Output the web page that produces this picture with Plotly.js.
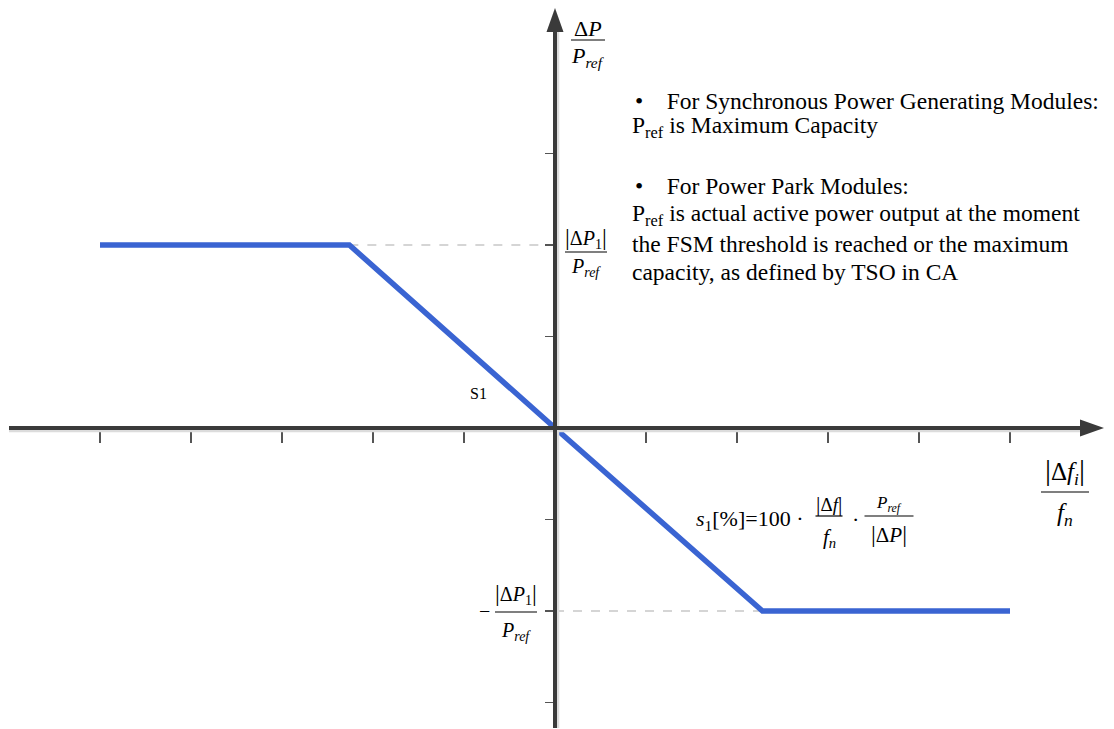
<!DOCTYPE html>
<html>
<head>
<meta charset="utf-8">
<script src="https://cdn.plot.ly/plotly-3.0.1.min.js"></script>
<style>
  html, body { margin: 0; padding: 0; background: #fff; }
  #graph { width: 1114px; height: 729px; }
</style>
</head>
<body>
<div id="graph"></div>
<script>
// 特性曲線の折れ点（単位は目盛り1つ分）
const curveX = [-5, -2.26, 0, 2.28, 5];
const curveY = [2, 2, 0, -2, -2];

// 軸の目盛り位置
const xTickVals = [-5, -4, -3, -2, -1, 1, 2, 3, 4, 5];
const yTickVals = [-3, -2, -1, 1, 2, 3];

// 右上の説明文（箇条書きの行は先頭に • を付ける）
const BULLET = "•\u00a0\u00a0\u00a0\u00a0";
const noteLines = [
  BULLET + "For Synchronous Power Generating Modules:",
  "P<sub>ref</sub> is Maximum Capacity",
  BULLET + "For Power Park Modules:",
  "P<sub>ref</sub> is actual active power output at the moment",
  "the FSM threshold is reached or the maximum",
  "capacity, as defined by TSO in CA",
];

// 画面サイズと原点の位置（ピクセル）
const W = 1114, H = 729;
const OX = 555, OY = 428;
const UX = 91, UY = 91.5;

const xRange = [-OX / UX, (W - OX) / UX];
const yRange = [-(H - OY) / UY, OY / UY];

const SERIF = "Liberation Serif, Times New Roman, serif";
const AXIS_COLOR = "#3a3a3a";

// ピクセル座標 -> paper座標
function px(x) { return x / W; }
function py(y) { return 1 - y / H; }

const annotations = [];
const shapes = [];

function addText(text, x, y, size, xanchor) {
  annotations.push({
    text: text,
    x: px(x), y: py(y),
    xref: "paper", yref: "paper",
    xanchor: xanchor || "center", yanchor: "middle",
    showarrow: false,
    font: { family: SERIF, size: size, color: "#000" },
  });
}

function addBar(x0, x1, y, w) {
  shapes.push({
    type: "line", xref: "paper", yref: "paper",
    x0: px(x0), x1: px(x1), y0: py(y), y1: py(y),
    line: { color: "#000", width: w || 1.2 },
  });
}

// 分数（分子・横線・分母）
function addFrac(num, den, cx, yNum, yBar, yDen, halfW, sizeNum, sizeDen) {
  addText(num, cx, yNum, sizeNum);
  addBar(cx - halfW, cx + halfW, yBar);
  addText(den, cx, yDen, sizeDen || sizeNum);
}

// --- 軸（矢印つき） ---
const xStart = (9 - OX) / UX, xTip = (1104 - OX) / UX;
const yStart = -(728 - OY) / UY, yTip = (OY - 8) / UY;
const headLen = 24, headHalf = 8.5;

// 薄い影
shapes.push({
  type: "line", xref: "x", yref: "y",
  x0: xStart, x1: xTip - headLen / UX, y0: -3 / UY, y1: -3 / UY,
  line: { color: "#dcdcdc", width: 2.5 },
});
shapes.push({
  type: "line", xref: "x", yref: "y",
  x0: 3 / UX, x1: 3 / UX, y0: yStart, y1: yTip - headLen / UY,
  line: { color: "#dcdcdc", width: 2.5 },
});
// 軸線
shapes.push({
  type: "line", xref: "x", yref: "y",
  x0: xStart, x1: xTip - headLen / UX + 0.02, y0: 0, y1: 0,
  line: { color: AXIS_COLOR, width: 4 },
});
shapes.push({
  type: "line", xref: "x", yref: "y",
  x0: 0, x1: 0, y0: yStart, y1: yTip - headLen / UY + 0.02,
  line: { color: AXIS_COLOR, width: 4 },
});
// 矢じり
const xb = xTip - headLen / UX, hy = headHalf / UY;
shapes.push({
  type: "path", xref: "x", yref: "y",
  path: `M ${xTip},0 L ${xb},${hy} L ${xb},${-hy} Z`,
  fillcolor: AXIS_COLOR, line: { width: 0 },
});
const yb = yTip - headLen / UY, hx = headHalf / UX;
shapes.push({
  type: "path", xref: "x", yref: "y",
  path: `M 0,${yTip} L ${hx},${yb} L ${-hx},${yb} Z`,
  fillcolor: AXIS_COLOR, line: { width: 0 },
});

// 絶対値記号を少し大きく
const bar = (s) => `<span style="font-size:${s}px">|</span>`;

// --- 軸ラベル ---
addFrac("Δ<i>P</i>", "<i>P</i><sub><i>ref</i></sub>", 588, 28, 40, 57, 17, 22);
addFrac(bar(30) + "Δ<i>f</i><sub><i>i</i></sub>" + bar(30), "<i>f</i><sub><i>n</i></sub>",
  1065, 471, 492, 514, 24, 25);

// --- 目盛りラベル ±|ΔP1|/Pref ---
addFrac(bar(24) + "Δ<i>P</i><sub>1</sub>" + bar(24), "<i>P</i><sub><i>ref</i></sub>", 586, 238, 252, 268, 21, 20);
addText("−", 484, 611, 20);
addFrac(bar(24) + "Δ<i>P</i><sub>1</sub>" + bar(24), "<i>P</i><sub><i>ref</i></sub>", 516, 594, 612, 631, 21, 20);

// --- 式 ---
addText("<i>s</i><sub>1</sub>[%]=100 ·", 694, 520, 22, "left");
addFrac(bar(22) + "Δ<i>f</i>" + bar(22), "<i>f</i><sub><i>n</i></sub>", 829, 503, 516, 538, 13.5, 19, 21);
addText("·", 855, 519, 22);
addFrac("<i>P</i><sub><i>ref</i></sub>", bar(24) + "Δ<i>P</i>" + bar(24), 889, 504, 516, 534, 24.5, 17, 21);

addText("S1", 478, 393, 16);

// --- 説明文 ---
const noteY = [101, 127, 186, 215, 244, 272];
const noteX = [633, 630, 633, 630, 630, 630];
noteLines.forEach((t, i) => addText(t, noteX[i], noteY[i], 23.5, "left"));

// --- トレース ---
const guideTop = {
  x: [curveX[1], 0], y: [curveY[1], curveY[1]],
  mode: "lines", type: "scatter",
  line: { color: "#c8c8c8", width: 1.5, dash: "dash" },
};
const guideBottom = {
  x: [0, curveX[3]], y: [curveY[3], curveY[3]],
  mode: "lines", type: "scatter",
  line: { color: "#c8c8c8", width: 1.5, dash: "dash" },
};
const curve = {
  x: curveX, y: curveY,
  mode: "lines", type: "scatter",
  line: { color: "#3a64d2", width: 5.5 },
};

const layout = {
  width: W, height: H,
  margin: { l: 0, r: 0, t: 0, b: 0 },
  paper_bgcolor: "#fff", plot_bgcolor: "#fff",
  showlegend: false,
  hovermode: false,
  xaxis: {
    range: xRange, fixedrange: true,
    showgrid: false, zeroline: false, showline: false,
    anchor: "free", position: (0 - yRange[0]) / (yRange[1] - yRange[0]),
    tickmode: "array", tickvals: xTickVals, showticklabels: false,
    ticks: "outside", ticklen: 14, tickwidth: 1.5, tickcolor: "#555",
  },
  yaxis: {
    range: yRange, fixedrange: true,
    showgrid: false, zeroline: false, showline: false,
    anchor: "free", position: (0 - xRange[0]) / (xRange[1] - xRange[0]),
    tickmode: "array", tickvals: yTickVals, showticklabels: false,
    ticks: "outside", ticklen: 10, tickwidth: 1.5, tickcolor: "#555",
  },
  shapes: shapes,
  annotations: annotations,
};

Plotly.newPlot("graph", [guideTop, guideBottom, curve], layout, { staticPlot: true });
</script>
</body>
</html>
